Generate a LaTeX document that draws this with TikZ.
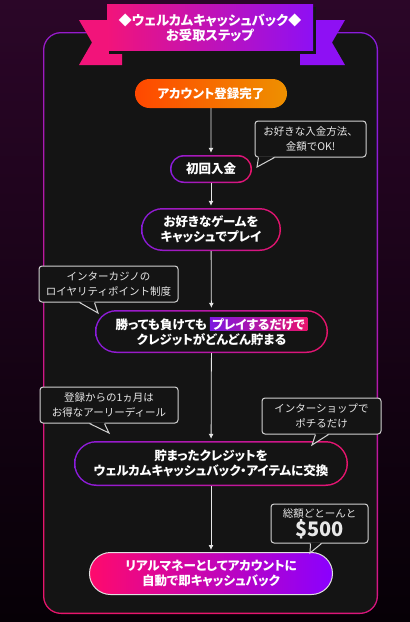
\documentclass[tikz,border=0pt]{standalone}
\usepackage{fontspec}
\setmainfont{Noto Sans CJK JP}
\newfontfamily\jpp{Noto Sans CJK JP}[RawFeature=+palt]
\usetikzlibrary{shapes.misc,calc,arrows.meta}
\definecolor{panel}{HTML}{141414}
\definecolor{bgtop}{HTML}{2B0628}
\definecolor{bgbot}{HTML}{060006}
\definecolor{ringpurple}{HTML}{8A1CDC}
\definecolor{ringpink}{HTML}{E8146C}
\definecolor{ribpink}{HTML}{F2147A}
\definecolor{ribpurple}{HTML}{8E10F4}
\definecolor{orangeA}{HTML}{FF4800}
\definecolor{orangeB}{HTML}{EE9000}
\definecolor{cashpink}{HTML}{FF0A6C}
\definecolor{cashpurple}{HTML}{8A00FF}
\definecolor{notecol}{HTML}{D2D2D2}
\definecolor{notetext}{HTML}{E8E8E8}
\definecolor{linecol}{HTML}{E6E6E6}
\tikzset{
  pillring/.style={rounded rectangle,left color=ringpurple,right color=ringpink,inner sep=0pt},
  pillin/.style={rounded rectangle,fill=panel,text=white,inner sep=0pt,align=center,
    font=\jpp\bfseries\fontsize{12.5}{15}\selectfont},
  note/.style={draw=notecol,line width=1pt,fill=panel,rounded corners=3pt,text=notetext,
    align=center,inner sep=0pt,font=\fontsize{10.5}{14.5}\selectfont},
  flow/.style={draw=linecol,line width=.8pt,-{Latex[length=5pt,width=5pt]},shorten >=2pt},
  hlbox/.style={rectangle,inner xsep=2.5pt,inner ysep=.5pt,minimum width=0pt,minimum height=0pt,
    left color=ringpurple!90!blue,right color=ringpink}
}
% gradient ring pill: name, position, width, height, text
\newcommand\steppill[5]{%
  \node[pillring,minimum width=#3,minimum height=#4] (#1) at (#2) {};
  \node[pillin,minimum width=#3-3,minimum height=#4-3] at (#1) {#5};}
% callout tail: box, base offsets from left, tip
\newcommand\notetail[4]{%
  \fill[panel] ($(#1.south west)+(#2,-1.2)$) -- (#4) -- ($(#1.south west)+(#3,-1.2)$) -- cycle;
  \draw[notecol,line width=1pt] ($(#1.south west)+(#2,0)$) -- (#4) -- ($(#1.south west)+(#3,0)$);}
\newcommand\hlt[1]{\tikz[baseline=(hl.base)]\node[hlbox](hl){#1};}
\begin{document}
\begin{tikzpicture}[x=1pt,y=-1pt]
\useasboundingbox (0,0) rectangle (410,622);
\shade[top color=bgtop,middle color=bgtop!80!black,bottom color=bgbot] (0,0) rectangle (410,622);
% panel
\shade[top color=ringpurple,bottom color=ringpink,shading angle=-30,rounded corners=18pt] (43,32) rectangle (378,614);
\fill[panel,rounded corners=17pt] (44.3,33.3) rectangle (376.7,612.7);
% ribbon
\fill[ribpink] (79,20) -- (122,20) -- (122,65) -- (79,65) -- (92,42.5) -- cycle;
\fill[ribpurple] (300,20) -- (345,20) -- (332,42.5) -- (345,65) -- (300,65) -- cycle;
\fill[black!92] (109,7) rectangle (316,53.5);
\shade[left color=ribpink,right color=ribpurple] (107,4) rectangle (313,50);
\node[text=white,align=center,font=\jpp\bfseries\fontsize{13.3}{15}\selectfont] (title) at (210,28) {◆ウェルカムキャッシュバック◆\\お受取ステップ};

% steps
\node[pillin,left color=orangeA,right color=orangeB,minimum width=152,minimum height=29] (signup) at (211,93.5) {アカウント登録完了};
\steppill{deposit}{211,169}{82}{28}{初回入金}
\steppill{play}{211,229.5}{140}{43}{お好きなゲームを\\キャッシュでプレイ}
\steppill{earn}{211.5,331.5}{233}{43}{勝っても負けても \hlt{プレイするだけで}\\クレジットがどんどん貯まる}
\steppill{swap}{211,463.5}{274}{45}{貯まったクレジットを\\ウェルカムキャッシュバック・アイテムに交換}
\node[pillin,left color=cashpink,right color=cashpurple,draw=white!88!black,line width=1pt,
  minimum width=243,minimum height=42] (payout) at (211,573.5) {リアルマネーとしてアカウントに\\自動で即キャッシュバック};

\draw[flow] (signup) -- (deposit);
\draw[flow] (deposit) -- (play);
\draw[flow] (play) -- (earn);
\draw[flow] (earn) -- (swap);
\draw[flow] (swap) -- (payout);

% callouts
\node[note,minimum width=111,minimum height=36] (tipdeposit) at (310.5,139) {お好きな入金方法、\\金額でOK!};
\coordinate (t1) at (257,167);
\notetail{tipdeposit}{4}{20}{t1}
\node[note,minimum width=139,minimum height=36] (tiployal) at (108.5,284) {インターカジノの\\ロイヤリティポイント制度};
\coordinate (t2) at (98,313);
\notetail{tiployal}{41}{56}{t2}
\node[note,minimum width=138,minimum height=36] (tipearly) at (109,405) {登録からの1ヵ月は\\お得なアーリーディール};
\coordinate (t3) at (109,433);
\notetail{tipearly}{50}{65}{t3}
\node[note,minimum width=119,minimum height=36] (tipshop) at (321.5,416) {インターショップで\\ポチるだけ};
\coordinate (t4) at (312,445);
\notetail{tipshop}{54}{67}{t4}
\node[note,minimum width=97,minimum height=39] (tiptotal) at (319.5,523.5) {総額どとーんと\\{\jpp\bfseries\fontsize{20}{20}\selectfont\$500}};
\coordinate (t5) at (310,553);
\notetail{tiptotal}{40}{51}{t5}
\end{tikzpicture}
\end{document}
